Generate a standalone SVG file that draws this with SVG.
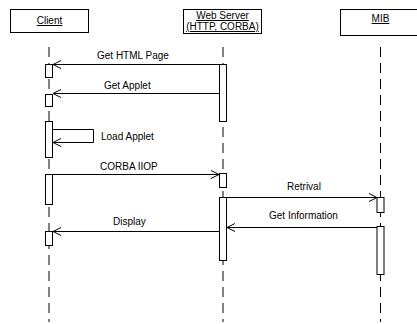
<svg xmlns="http://www.w3.org/2000/svg" width="417" height="324" viewBox="0 0 417 324">
  <style>
    .box { fill: #ffffff; stroke: #000000; stroke-width: 1; }
    .act { fill: #ffffff; stroke: #000000; stroke-width: 1; }
    .life { stroke: #000000; stroke-width: 1; stroke-dasharray: 10 6; fill: none; }
    .msg { stroke: #000000; stroke-width: 1; fill: none; }
    .lbl { font-family: "Liberation Sans", Arial, sans-serif; font-size: 10px; fill: #000000; }
    .name { font-family: "Liberation Sans", Arial, sans-serif; font-size: 10px; fill: #000000; text-anchor: middle; text-decoration: underline; }
  </style>
  <defs>
    <marker id="open" markerWidth="10" markerHeight="10" refX="9" refY="5" orient="auto" markerUnits="userSpaceOnUse">
      <path d="M1,1 L9,5 L1,9" fill="none" stroke="#000000" stroke-width="1"/>
    </marker>
  </defs>
  <rect width="417" height="324" fill="#ffffff"/>

  <!-- lifelines -->
  <g id="lifelines">
    <line class="life" x1="49" y1="47" x2="49" y2="322"/>
    <line class="life" x1="223" y1="47" x2="223" y2="322"/>
    <line class="life" x1="380.5" y1="47" x2="380.5" y2="322"/>
  </g>

  <!-- Client -->
  <g id="client">
    <rect class="box" x="10.5" y="9.5" width="78" height="23"/>
    <text class="name" x="49.5" y="24">Client</text>
    <rect class="act" x="45.5" y="64.5" width="7" height="13"/>
    <rect class="act" x="45.5" y="94.5" width="7" height="12"/>
    <rect class="act" x="45.5" y="121.5" width="7" height="36"/>
    <rect class="act" x="45.5" y="174.5" width="7" height="30"/>
    <rect class="act" x="45.5" y="231.5" width="7" height="14"/>
  </g>

  <!-- Web Server -->
  <g id="webserver">
    <rect class="box" x="183.5" y="9.5" width="78" height="24"/>
    <text class="name" x="222.5" y="19">Web Server</text>
    <text class="name" x="222.5" y="30">(HTTP, CORBA)</text>
    <rect class="act" x="219.5" y="64.5" width="7" height="57"/>
    <rect class="act" x="219.5" y="173.5" width="7" height="14"/>
    <rect class="act" x="219.5" y="197.5" width="7" height="63"/>
  </g>

  <!-- MIB -->
  <g id="mib">
    <rect class="box" x="340.5" y="9.5" width="80" height="26"/>
    <text class="name" x="380.5" y="22">MIB</text>
    <rect class="act" x="377" y="197.5" width="7" height="15"/>
    <rect class="act" x="377" y="226.5" width="7" height="48"/>
  </g>

  <!-- messages -->
  <g id="connectors">
    <line class="msg" x1="219.5" y1="64.5" x2="53" y2="64.5" marker-end="url(#open)"/>
    <line class="msg" x1="219.5" y1="93.5" x2="53" y2="93.5" marker-end="url(#open)"/>
    <path class="msg" d="M52.5,129.5 H93.5 V142.5 H53" marker-end="url(#open)"/>
    <line class="msg" x1="52.5" y1="174.5" x2="219" y2="174.5" marker-end="url(#open)"/>
    <line class="msg" x1="226.5" y1="197.5" x2="377" y2="197.5" marker-end="url(#open)"/>
    <line class="msg" x1="377" y1="227.5" x2="227" y2="227.5" marker-end="url(#open)"/>
    <line class="msg" x1="219.5" y1="231.5" x2="53" y2="231.5" marker-end="url(#open)"/>
  </g>

  <!-- message labels -->
  <g id="labels">
    <text class="lbl" x="97" y="59">Get HTML Page</text>
    <text class="lbl" x="104" y="89">Get Applet</text>
    <text class="lbl" x="101" y="140">Load Applet</text>
    <text class="lbl" x="100" y="170">CORBA IIOP</text>
    <text class="lbl" x="287" y="190">Retrival</text>
    <text class="lbl" x="269" y="219">Get Information</text>
    <text class="lbl" x="113" y="225">Display</text>
  </g>
</svg>
